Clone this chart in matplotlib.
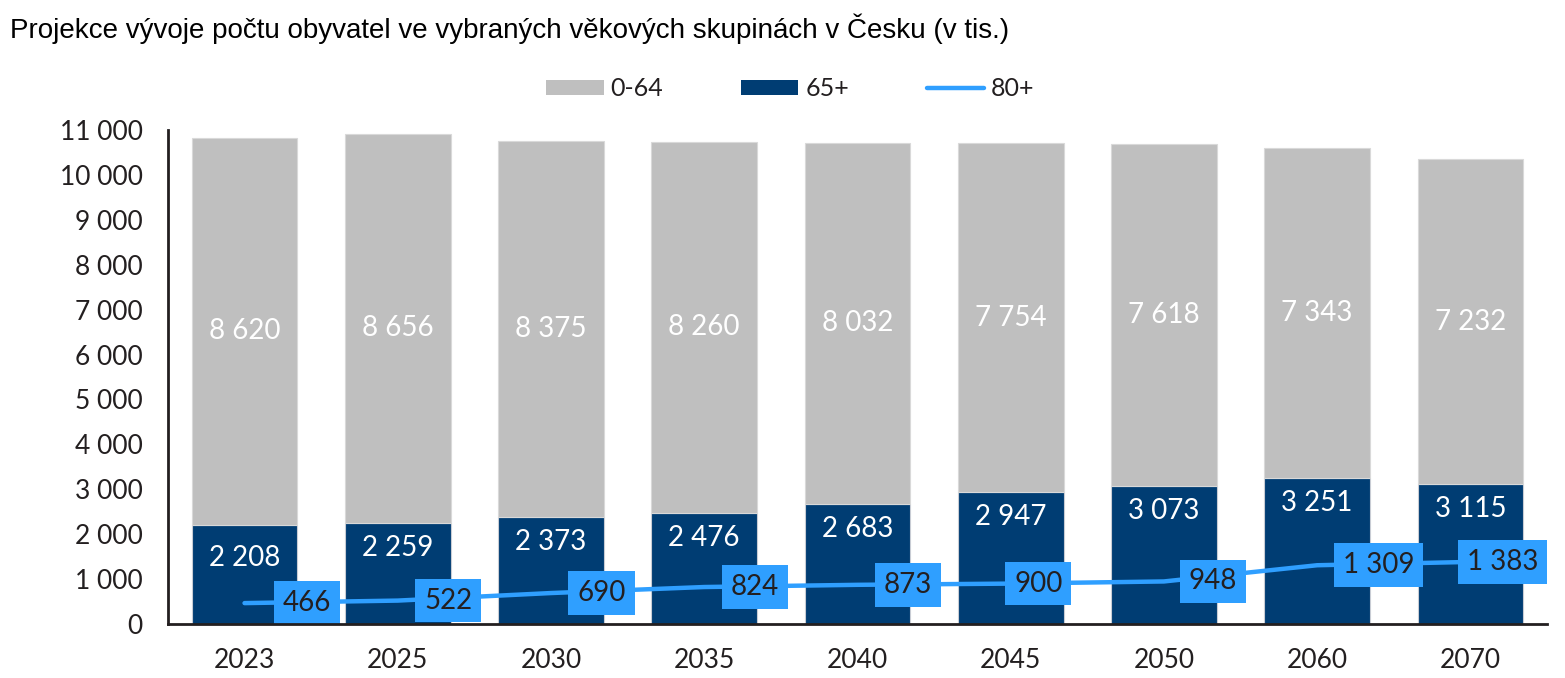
import matplotlib.pyplot as plt
from matplotlib.patches import Patch
from matplotlib.lines import Line2D
from matplotlib.ticker import FuncFormatter

plt.rcParams["font.family"] = ["Liberation Sans", "DejaVu Sans"]

# ---- data (tis. obyvatel) ----
years = ["2023", "2025", "2030", "2035", "2040", "2045", "2050", "2060", "2070"]
age_0_64 = [8620, 8656, 8375, 8260, 8032, 7754, 7618, 7343, 7232]
age_65p = [2208, 2259, 2373, 2476, 2683, 2947, 3073, 3251, 3115]
age_80p = [466, 522, 690, 824, 873, 900, 948, 1309, 1383]

C_GRAY = "#BFBFBF"
C_DARK = "#003D73"
C_LINE = "#2F9FFF"
C_TEXT = "#231F20"
NUM_FONT = "Lato"


def fmt(v):
    return f"{v:,.0f}".replace(",", " ")


fig = plt.figure(figsize=(15.65, 6.78), dpi=100)
ax = fig.add_axes([0.1073, 0.0796, 0.8812, 0.7287])

x = list(range(len(years)))
w = 0.69
ax.bar(x, age_65p, width=w, color=C_DARK, ec="#C8CCD4", lw=0.8, zorder=2)
ax.bar(x, age_0_64, width=w, bottom=age_65p, color=C_GRAY, ec="#D9D9D9", lw=0.8, zorder=2)
ax.plot(x, age_80p, color=C_LINE, lw=3.2, solid_capstyle="round", zorder=3)

# popisky sloupcu
lab_off = [-24, -18, -18, -18, -18, -18, -18, -18, -18]
for i in x:
    ax.text(i, age_65p[i] + age_0_64[i] / 2, fmt(age_0_64[i]), ha="center",
            va="center", color="white", fontsize=20, family=NUM_FONT)
    ax.annotate(fmt(age_65p[i]), (i, age_65p[i]), xytext=(0, lab_off[i]),
                textcoords="offset points", ha="center", va="center",
                color="white", fontsize=20, family=NUM_FONT)

# 80+ popisky vpravo od bodu
dx = [0.41, 0.33, 0.33, 0.33, 0.33, 0.18, 0.32, 0.40, 0.21]
for i in x:
    ax.text(i + dx[i], age_80p[i], fmt(age_80p[i]), ha="center", va="center",
            color=C_TEXT, fontsize=20, family=NUM_FONT, zorder=4,
            bbox=dict(boxstyle="square,pad=0.32", fc=C_LINE, ec="none"))

ax.set_xlim(-0.5, len(years) - 0.5)
ax.set_ylim(0, 11000)
ax.set_yticks(range(0, 11001, 1000))
ax.yaxis.set_major_formatter(FuncFormatter(lambda v, p: fmt(v)))
ax.set_xticks(x)
ax.set_xticklabels(years)
ax.tick_params(axis="both", length=0, labelsize=19, colors=C_TEXT)
ax.tick_params(axis="y", pad=18)
ax.tick_params(axis="x", pad=17)
for lab in ax.get_xticklabels() + ax.get_yticklabels():
    lab.set_family(NUM_FONT)
for s in ["top", "right"]:
    ax.spines[s].set_visible(False)
for s in ["left", "bottom"]:
    ax.spines[s].set_linewidth(2)
    ax.spines[s].set_color(C_TEXT)
    ax.spines[s].set_zorder(5)

fig.text(0.0064, 0.957, "Projekce vývoje počtu obyvatel ve vybraných věkových skupinách v Česku (v tis.)",
         ha="left", va="center", fontsize=20, color="black")

handles = [Patch(fc=C_GRAY, ec="none"), Patch(fc=C_DARK, ec="none"),
           Line2D([], [], color=C_LINE, lw=3.2, solid_capstyle="round")]
leg = fig.legend(handles, ["0-64", "65+", "80+"], loc="center", bbox_to_anchor=(0.505, 0.869),
                 ncol=3, frameon=False, handlelength=2.3, handleheight=0.56,
                 handletextpad=0.28, columnspacing=3.1,
                 prop={"family": NUM_FONT, "size": 18})
for t in leg.get_texts():
    t.set_color(C_TEXT)

fig.savefig("out.png", dpi=100)
